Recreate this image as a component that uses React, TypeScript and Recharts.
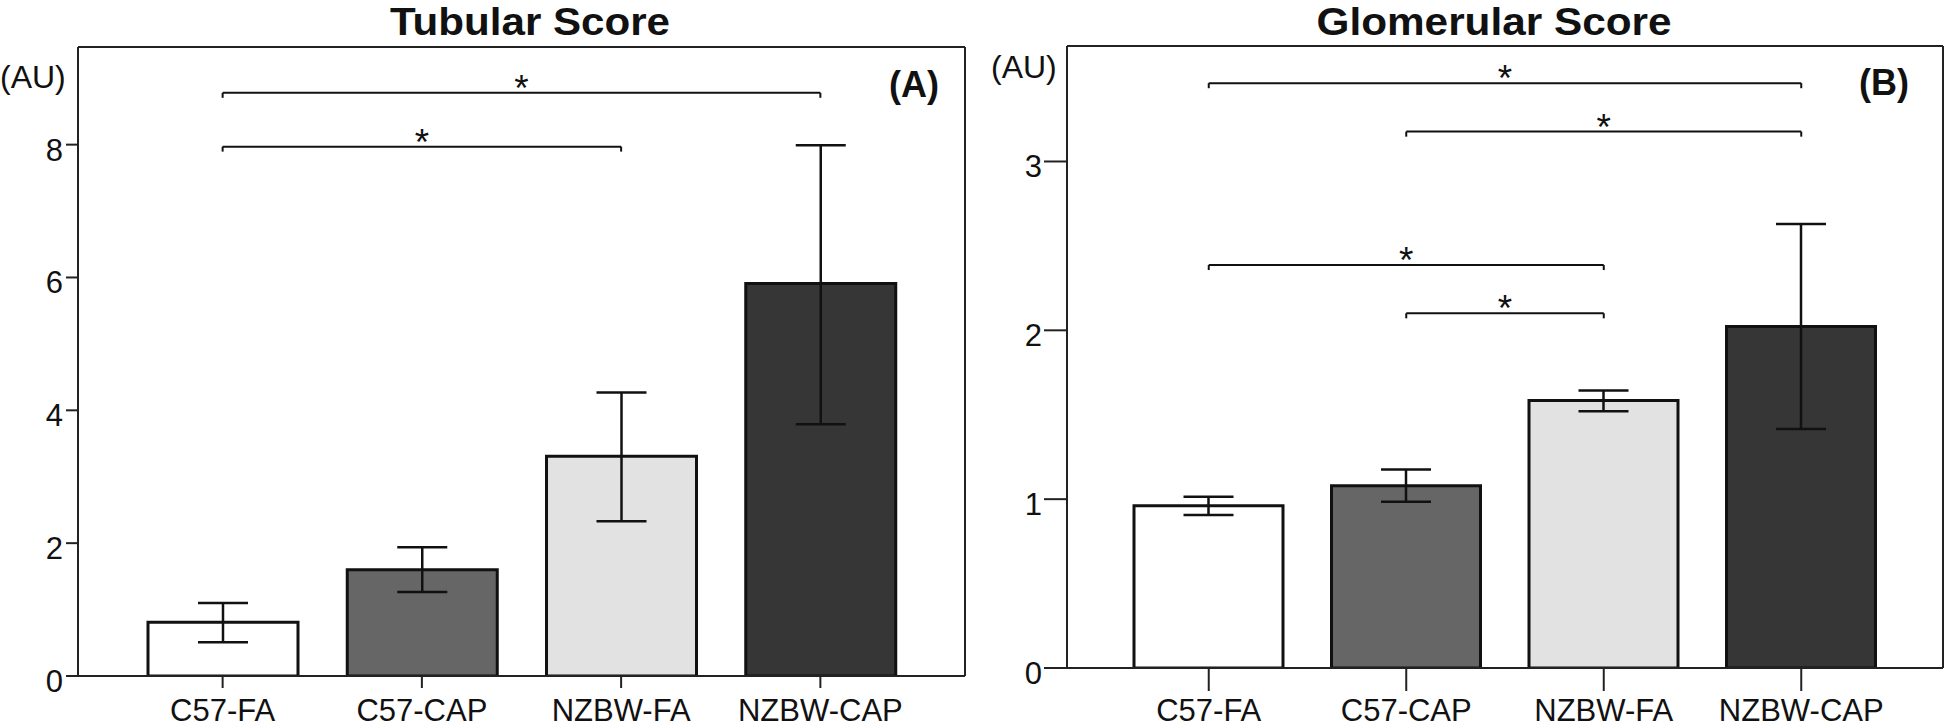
import React from 'react';
import { BarChart, Bar, XAxis, YAxis, ErrorBar, Cell, ReferenceLine, CartesianGrid } from 'recharts';

const categories = ['C57-FA', 'C57-CAP', 'NZBW-FA', 'NZBW-CAP'];
const barColors = ['#ffffff', '#666666', '#e2e2e2', '#363636'];

const tubularMean = [0.81, 1.6, 3.31, 5.91];
const tubularLower = [0.51, 1.265, 2.33, 3.79];
const tubularUpper = [1.1, 1.94, 4.27, 7.99];
const tubularTicks = [0, 2, 4, 6, 8];

const glomMean = [0.961, 1.08, 1.584, 2.022];
const glomLower = [0.906, 0.985, 1.521, 1.416];
const glomUpper = [1.015, 1.175, 1.643, 2.629];
const glomTicks = [0, 1, 2, 3];

const tubularSig = [
  { from: 'C57-FA', to: 'NZBW-CAP', y: 8.78 },
  { from: 'C57-FA', to: 'NZBW-FA', y: 7.97 },
];
const glomSig = [
  { from: 'C57-FA', to: 'NZBW-CAP', y: 3.464 },
  { from: 'C57-CAP', to: 'NZBW-CAP', y: 3.177 },
  { from: 'C57-FA', to: 'NZBW-FA', y: 2.387 },
  { from: 'C57-CAP', to: 'NZBW-FA', y: 2.101 },
];

const FONT = '"Liberation Sans", Arial, Helvetica, sans-serif';
const INK = '#111';

const buildData = (mean: number[], lower: number[], upper: number[]) =>
  categories.map((name, i) => ({
    name,
    value: mean[i],
    err: [mean[i] - lower[i], upper[i] - mean[i]],
  }));

const YTick = (props: any) => {
  const { x, y, payload } = props;
  return (
    <text x={x} y={y} dy={16} textAnchor="end" fontSize={31} fontFamily={FONT} fill={INK}>
      {payload.value}
    </text>
  );
};

const XTick = (props: any) => {
  const { x, y, payload } = props;
  return (
    <text x={x} y={y} dy={21} textAnchor="middle" fontSize={31} fontFamily={FONT} fill={INK}>
      {payload.value}
    </text>
  );
};

const Star = (props: any) => {
  const vb = props.viewBox || { x: 0, y: 0, width: 0 };
  return (
    <text x={vb.x + vb.width / 2} y={vb.y + 8} textAnchor="middle" fontSize={37} fontFamily={FONT} fill={INK}>
      *
    </text>
  );
};

const frameH = (props: any) => {
  const o = props.offset;
  return [o.top, o.top + o.height];
};
const frameV = (props: any) => {
  const o = props.offset;
  return [o.left, o.left + o.width];
};

type PanelProps = {
  data: any[];
  max: number;
  ticks: number[];
  sig: { from: string; to: string; y: number }[];
  drop: number;
  width: number;
  margin: any;
  yWidth: number;
  xHeight: number;
  pad: number;
  yTickSize: number;
  yTickMargin: number;
  xTickSize: number;
  xTickMargin: number;
  barSize: number;
};

const Panel = (p: PanelProps) => {
  const line = { stroke: '#222', strokeWidth: 2 };
  return (
    <BarChart width={p.width} height={728} data={p.data} margin={p.margin}>
      <CartesianGrid
        stroke="#222"
        strokeWidth={2}
        horizontalCoordinatesGenerator={frameH}
        verticalCoordinatesGenerator={frameV}
      />
      <XAxis
        dataKey="name"
        height={p.xHeight}
        padding={{ left: p.pad, right: p.pad }}
        tick={<XTick />}
        tickSize={p.xTickSize}
        tickMargin={p.xTickMargin}
        tickLine={line}
        axisLine={line}
        interval={0}
      />
      <YAxis
        width={p.yWidth}
        domain={[0, p.max]}
        ticks={p.ticks}
        tick={<YTick />}
        tickSize={p.yTickSize}
        tickMargin={p.yTickMargin}
        tickLine={line}
        axisLine={line}
        allowDataOverflow
      />
      <Bar dataKey="value" barSize={p.barSize} stroke="#111" strokeWidth={3} isAnimationActive={false}>
        {p.data.map((d, i) => (
          <Cell key={d.name} fill={barColors[i]} />
        ))}
        <ErrorBar dataKey="err" width={25} stroke="#111" strokeWidth={2.5} direction="y" isAnimationActive={false} />
      </Bar>
      {p.sig.map((s, i) => (
        <ReferenceLine
          key={'h' + i}
          segment={[{ x: s.from, y: s.y }, { x: s.to, y: s.y }]}
          stroke="#111"
          strokeWidth={2}
          label={<Star />}
        />
      ))}
      {p.sig.map((s, i) => (
        <ReferenceLine
          key={'l' + i}
          segment={[{ x: s.from, y: s.y }, { x: s.from, y: s.y - p.drop }]}
          stroke="#111"
          strokeWidth={2}
        />
      ))}
      {p.sig.map((s, i) => (
        <ReferenceLine
          key={'r' + i}
          segment={[{ x: s.to, y: s.y }, { x: s.to, y: s.y - p.drop }]}
          stroke="#111"
          strokeWidth={2}
        />
      ))}
    </BarChart>
  );
};

export default function App() {
  const tubularData = buildData(tubularMean, tubularLower, tubularUpper);
  const glomData = buildData(glomMean, glomLower, glomUpper);
  return (
    <div style={{ position: 'absolute', left: 0, top: 0, width: 1946, height: 728, background: '#fff', overflow: 'hidden' }}>
      <div style={{ position: 'absolute', left: 0, top: 0 }}>
        <Panel
          data={tubularData}
          max={9.47}
          ticks={tubularTicks}
          sig={tubularSig}
          drop={0.075}
          width={980}
          margin={{ top: 47, right: 15, bottom: 0, left: 0 }}
          yWidth={78}
          xHeight={52}
          pad={45}
          yTickSize={12}
          yTickMargin={3}
          xTickSize={12}
          xTickMargin={12}
          barSize={150}
        />
      </div>
      <div style={{ position: 'absolute', left: 980, top: 0 }}>
        <Panel
          data={glomData}
          max={3.684}
          ticks={glomTicks}
          sig={glomSig}
          drop={0.03}
          width={966}
          margin={{ top: 46, right: 3, bottom: 0, left: 0 }}
          yWidth={87}
          xHeight={60}
          pad={43}
          yTickSize={23}
          yTickMargin={2}
          xTickSize={23}
          xTickMargin={9}
          barSize={149}
        />
      </div>
      <svg width={1946} height={728} style={{ position: 'absolute', left: 0, top: 0, pointerEvents: 'none' }}>
        <text
          x={530}
          y={35}
          textAnchor="middle"
          fontSize={38}
          fontWeight="bold"
          fontFamily={FONT}
          fill={INK}
          textLength={280}
          lengthAdjust="spacingAndGlyphs"
        >
          Tubular Score
        </text>
        <text
          x={1494}
          y={35}
          textAnchor="middle"
          fontSize={38}
          fontWeight="bold"
          fontFamily={FONT}
          fill={INK}
          textLength={355}
          lengthAdjust="spacingAndGlyphs"
        >
          Glomerular Score
        </text>
        <text x={0} y={88} fontSize={32} fontFamily={FONT} fill={INK}>
          (AU)
        </text>
        <text x={991} y={78} fontSize={32} fontFamily={FONT} fill={INK}>
          (AU)
        </text>
        <text x={914} y={97} textAnchor="middle" fontSize={36} fontWeight="bold" fontFamily={FONT} fill={INK}>
          (A)
        </text>
        <text x={1884} y={95} textAnchor="middle" fontSize={36} fontWeight="bold" fontFamily={FONT} fill={INK}>
          (B)
        </text>
      </svg>
    </div>
  );
}
